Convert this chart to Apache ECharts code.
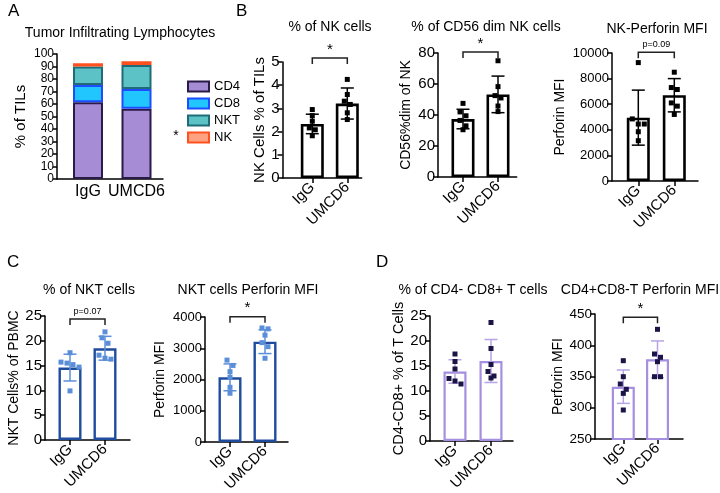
<!DOCTYPE html>
<html><head><meta charset="utf-8">
<script src="https://cdn.jsdelivr.net/npm/echarts@6/dist/echarts.min.js"></script>
<style>html,body{margin:0;padding:0;background:#fff}#c{width:720px;height:493px}</style>
</head><body><div id="c"></div>
<script>
// ---------------- DATA ----------------
const groups = ['IgG', 'UMCD6'];

// Panel A – stacked % of TILs
const tilNames = ['CD4', 'CD8', 'NKT', 'NK'];
const tilCD4 = [61.5, 56.2];
const tilCD8 = [13.8, 15.9];
const tilNKT = [14.7, 19.1];
const tilNK  = [2.6, 3.0];
const tilTicks = [0,10,20,30,40,50,60,70,80,90,100];

// B1 – % of NK cells
const nkPctMean = [2.33, 3.21];
const nkPctSD = [0.42, 0.67];
const nkPctIgG = [2.95, 2.69, 2.45, 2.16, 2.08, 1.82];
const nkPctUMCD6 = [4.25, 3.60, 3.31, 3.17, 2.81, 2.52];
const nkPctTicks = [0,1,2,3,4,5];

// B2 – % of CD56 dim NK cells
const cd56Mean = [37.4, 53.3];
const cd56SD = [6.3, 11.8];
const cd56IgG = [47.5, 42, 39.5, 36.5, 33, 30.5];
const cd56UMCD6 = [75, 58.3, 52.5, 51, 45.8, 42.2];
const cd56Ticks = [0,20,40,60,80];

// B3 – NK perforin MFI
const nkPerfMean = [4950, 6700];
const nkPerfSD = [2150, 1300];
const nkPerfIgG = [9250, 4850, 4450, 4450, 3850, 3150];
const nkPerfUMCD6 = [8500, 7300, 7150, 6100, 5850, 5200];
const nkPerfTicks = [0,2000,4000,6000,8000,10000];

// C1 – % of NKT cells
const nktPctMean = [14.6, 18.5];
const nktPctSD = [2.7, 2.4];
const nktPctIgG = [17.6, 15.7, 15.5, 15.2, 14.7, 9.9];
const nktPctUMCD6 = [21.8, 20.6, 19.5, 17.1, 16.5, 16.3];
const nktPctTicks = [0,5,10,15,20,25];

// C2 – NKT perforin MFI
const nktPerfMean = [2070, 3210];
const nktPerfSD = [430, 380];
const nktPerfIgG = [2620, 2450, 2250, 2070, 1750, 1560];
const nktPerfUMCD6 = [3650, 3620, 3420, 3180, 3050, 2680];
const nktPerfTicks = [0,1000,2000,3000,4000];

// D1 – % of CD4- CD8+ T cells
const cd8PctMean = [13.9, 16.0];
const cd8PctSD = [2.35, 4.3];
const cd8PctIgG = [17.4, 15.9, 14.4, 12.5, 12.0, 11.4];
const cd8PctUMCD6 = [23.7, 18.5, 15.3, 13.9, 13.0, 12.6];
const cd8PctTicks = [0,5,10,15,20,25];

// D2 – CD4+CD8-T perforin MFI
const cd4PerfMean = [333.7, 377.5];
const cd4PerfSD = [26.7, 29.4];
const cd4PerfIgG = [375.3, 349.7, 338, 329.5, 323, 296.4];
const cd4PerfUMCD6 = [425.5, 386, 380.7, 373.7, 349.7, 349.7];
const cd4PerfTicks = [250,300,350,400,450];

// significance brackets: level (data units) and label
const sigLevels = {B1: 5.17, B2: 80.6, B3: 10050, C1: 24.4, C2: 4010, D2: 445};
const sigLabels = {B1: '*', B2: '*', B3: 'p=0.09', C1: 'p=0.07', C2: '*', D2: '*'};

// ---------------- STYLE / LAYOUT ----------------
const FF = '"Liberation Sans", Arial, Helvetica, sans-serif';
const styleB = {bar: '#000000', err: '#000000', pt: '#000000', bw: 2.6};
const styleC = {bar: '#1f4c9c', err: '#5b8ed8', pt: '#5b8ed8', bw: 2.4};
const styleD = {bar: '#a68fe0', err: '#b7a3e6', pt: '#1b1446', bw: 2.2};

const panels = [
  {key:'B1', left:282.5, right:361.7, top:62, bottom:178, c1:312.3, c2:347.3, ticks:nkPctTicks, mean:nkPctMean, sd:nkPctSD, a:nkPctIgG, b:nkPctUMCD6, st:styleB, name:'NK Cells % of TILs', nameGap:14, nameSize:15, labSize:15},
  {key:'B2', left:438, right:516.7, top:53, bottom:177, c1:463, c2:498, ticks:cd56Ticks, mean:cd56Mean, sd:cd56SD, a:cd56IgG, b:cd56UMCD6, st:styleB, name:'CD56%dim of NK', nameGap:25, nameSize:14, labSize:15},
  {key:'B3', left:612, right:698, top:53, bottom:181, c1:638.3, c2:674.3, ticks:nkPerfTicks, mean:nkPerfMean, sd:nkPerfSD, a:nkPerfIgG, b:nkPerfUMCD6, st:styleB, name:'Perforin MFI', nameGap:45, nameSize:14, labSize:13},
  {key:'C1', left:45, right:130, top:316, bottom:440, c1:70, c2:105, ticks:nktPctTicks, mean:nktPctMean, sd:nktPctSD, a:nktPctIgG, b:nktPctUMCD6, st:styleC, name:'NKT Cells% of PBMC', nameGap:20, nameSize:14, labSize:15},
  {key:'C2', left:205, right:288, top:317, bottom:442, c1:230, c2:265, ticks:nktPerfTicks, mean:nktPerfMean, sd:nktPerfSD, a:nktPerfIgG, b:nktPerfUMCD6, st:styleC, name:'Perforin MFI', nameGap:38, nameSize:14, labSize:13},
  {key:'D1', left:430, right:513, top:316, bottom:441, c1:455, c2:491, ticks:cd8PctTicks, mean:cd8PctMean, sd:cd8PctSD, a:cd8PctIgG, b:cd8PctUMCD6, st:styleD, name:'CD4-CD8+ % of T Cells', nameGap:23, nameSize:14.5, labSize:15},
  {key:'D2', left:595, right:683, top:314, bottom:439, c1:623.3, c2:657.5, ticks:cd4PerfTicks, mean:cd4PerfMean, sd:cd4PerfSD, a:cd4PerfIgG, b:cd4PerfUMCD6, st:styleD, name:'Perforin MFI', nameGap:30, nameSize:14, labSize:13.5}
];

const texts = [
  ['A', 8, 11, 17], ['B', 236, 11, 17], ['C', 7, 262, 17], ['D', 376, 262, 17],
  ['Tumor Infiltrating Lymphocytes', 120, 33, 14],
  ['% of NK cells', 330, 27, 14], ['% of CD56 dim NK cells', 486, 27, 14], ['NK-Perforin MFI', 657, 29, 14],
  ['% of NKT cells', 89, 290, 14], ['NKT cells Perforin MFI', 248, 290, 14],
  ['% of CD4- CD8+ T cells', 473, 290, 14], ['CD4+CD8-T Perforin MFI', 640, 290, 14],
  ['*', 176, 136, 14]
];

// --------------- HELPERS ----------------
function swarm(vals, xc, p) {
  const yPer = (p.ymax - p.ymin) / (p.bottom - p.top);
  const thr = 5.5 * yPer;
  const step = 6 / p.unit;
  const sorted = vals.slice().sort((u, v) => v - u);
  const out = [];
  let cl = [];
  const flush = () => { cl.forEach((v, k) => out.push([xc + (k - (cl.length - 1) / 2) * step, v])); cl = []; };
  sorted.forEach(v => { if (cl.length && cl[0] - v >= thr) flush(); cl.push(v); });
  flush();
  return out;
}
function errRender(color, cap) {
  return function (params, api) {
    const x = api.value(0), m = api.value(1), s = api.value(2);
    const t = api.coord([x, m + s]), b = api.coord([x, m - s]);
    const style = {stroke: color, lineWidth: 1.5, fill: null};
    return {type: 'group', children: [
      {type: 'line', shape: {x1: t[0], y1: t[1], x2: b[0], y2: b[1]}, style},
      {type: 'line', shape: {x1: t[0] - cap / 2, y1: t[1], x2: t[0] + cap / 2, y2: t[1]}, style},
      {type: 'line', shape: {x1: b[0] - cap / 2, y1: b[1], x2: b[0] + cap / 2, y2: b[1]}, style}
    ]};
  };
}
function bracketRender(label) {
  return function (params, api) {
    const p1 = api.coord([api.value(0), api.value(2)]);
    const p2 = api.coord([api.value(1), api.value(2)]);
    const small = label.length > 1;
    return {type: 'group', children: [
      {type: 'polyline', shape: {points: [[p1[0], p1[1] + 6], [p1[0], p1[1]], [p2[0], p2[1]], [p2[0], p2[1] + 6]]},
        style: {stroke: '#222', lineWidth: 1.5, fill: null}},
      {type: 'text', x: (p1[0] + p2[0]) / 2, y: p1[1] - (small ? 3 : 1),
        style: {text: label, fontSize: small ? 9 : 15, fontFamily: FF, fill: '#000', align: 'center', verticalAlign: 'bottom'}}
    ]};
  };
}
const plainNum = v => String(v);

// --------------- BUILD OPTION ----------------
const grids = [], xAxes = [], yAxes = [], series = [];
function axisCommon() {
  return {
    axisLine: {show: true, onZero: false, lineStyle: {color: '#000', width: 1.5}},
    splitLine: {show: false}
  };
}

// Panel A: grid 0 draws the axes frame, grid 1 holds the stacked category bars
(function () {
  const left = 57, right = 163, top = 54, bottom = 179, c1 = 88, c2 = 136.5;
  const band = c2 - c1;
  grids.push({left, top, width: right - left, height: bottom - top, outerBoundsMode: 'none', containLabel: false});
  grids.push({left: c1 - band / 2, top, width: band * 2, height: bottom - top, outerBoundsMode: 'none', containLabel: false});
  const yMin = tilTicks[0], yMax = tilTicks[tilTicks.length - 1], yInt = tilTicks[1] - tilTicks[0];
  xAxes.push(Object.assign(axisCommon(), {
    type: 'value', gridIndex: 0, min: 0, max: 1, axisTick: {show: false}, axisLabel: {show: false}
  }));
  xAxes.push({type: 'category', gridIndex: 1, data: groups, boundaryGap: true,
    axisLine: {show: false}, axisTick: {show: false}, splitLine: {show: false},
    axisLabel: {color: '#000', fontSize: 16, fontFamily: FF, margin: 5, interval: 0}});
  yAxes.push(Object.assign(axisCommon(), {
    type: 'value', gridIndex: 0, min: yMin, max: yMax, interval: yInt,
    axisTick: {show: true, length: 4, lineStyle: {color: '#000', width: 1.5}},
    axisLabel: {color: '#000', fontSize: 12, fontFamily: FF, margin: 3, formatter: plainNum},
    name: '% of TILs', nameLocation: 'middle', nameGap: 29, nameRotate: 90,
    nameTextStyle: {color: '#000', fontSize: 15, fontFamily: FF}
  }));
  yAxes.push({type: 'value', gridIndex: 1, min: yMin, max: yMax, interval: yInt, show: false, splitLine: {show: false}});
  const tilData = [tilCD4, tilCD8, tilNKT, tilNK];
  const fills = ['#a68bd5', '#22c6ff', '#5cc2c5', '#ffa282'];
  const borders = ['#2a1a48', '#1f4cff', '#1f6c78', '#ff5020'];
  tilData.forEach((arr, k) => {
    series.push({type: 'bar', name: tilNames[k], stack: 'til', xAxisIndex: 1, yAxisIndex: 1, barWidth: 30,
      data: arr.slice(),
      itemStyle: {color: fills[k], borderColor: borders[k], borderWidth: 2}});
  });
})();

panels.forEach((p, idx) => {
  const i = idx + 2;
  p.unit = p.c2 - p.c1;
  p.ymin = p.ticks[0]; p.ymax = p.ticks[p.ticks.length - 1];
  grids.push({left: p.left, top: p.top, width: p.right - p.left, height: p.bottom - p.top, outerBoundsMode: 'none', containLabel: false});
  xAxes.push(Object.assign(axisCommon(), {
    type: 'value', gridIndex: i, min: 1 - (p.c1 - p.left) / p.unit, max: 2 + (p.right - p.c2) / p.unit,
    axisTick: {show: true, customValues: [1, 2], length: 5, lineStyle: {color: '#000', width: 1.5}},
    axisLabel: {customValues: [1, 2], formatter: v => groups[Math.round(v) - 1], rotate: 45, color: '#000', fontSize: 15, fontFamily: FF, margin: 7}
  }));
  yAxes.push(Object.assign(axisCommon(), {
    type: 'value', gridIndex: i, min: p.ymin, max: p.ymax, interval: p.ticks[1] - p.ticks[0],
    axisTick: {show: true, length: 5, lineStyle: {color: '#000', width: 1.5}},
    axisLabel: {color: '#000', fontSize: p.labSize, fontFamily: FF, margin: 3, formatter: plainNum},
    name: p.name, nameLocation: 'middle', nameGap: p.nameGap, nameRotate: 90,
    nameTextStyle: {color: '#000', fontSize: p.nameSize, fontFamily: FF}
  }));
  series.push({type: 'bar', xAxisIndex: i, yAxisIndex: i, barWidth: 23, z: 2,
    data: p.mean.map((v, j) => [j + 1, v]),
    itemStyle: {color: '#ffffff', borderColor: p.st.bar, borderWidth: p.st.bw}});
  series.push({type: 'custom', xAxisIndex: i, yAxisIndex: i, z: 3, clip: false,
    renderItem: errRender(p.st.err, 13),
    data: p.mean.map((v, j) => [j + 1, v, p.sd[j]])});
  series.push({type: 'scatter', xAxisIndex: i, yAxisIndex: i, z: 4, symbol: 'rect', symbolSize: 5,
    itemStyle: {color: p.st.pt, opacity: 1},
    data: swarm(p.a, 1, p).concat(swarm(p.b, 2, p))});
  if (sigLevels[p.key] !== undefined) {
    series.push({type: 'custom', xAxisIndex: i, yAxisIndex: i, z: 5, clip: false,
      renderItem: bracketRender(sigLabels[p.key]),
      data: [[1, 2, sigLevels[p.key]]]});
  }
});

const option = {
  animation: false,
  backgroundColor: '#ffffff',
  textStyle: {fontFamily: FF},
  grid: grids, xAxis: xAxes, yAxis: yAxes, series,
  legend: {data: tilNames, orient: 'vertical', left: 182, top: 75, itemWidth: 21, itemHeight: 10, itemGap: 4,
    icon: 'rect', selectedMode: false, textStyle: {color: '#000', fontSize: 13, fontFamily: FF}},
  graphic: texts.map(t => ({type: 'text', x: t[1], y: t[2],
    style: {text: t[0], fontSize: t[3], fontFamily: FF, fill: '#000', align: t[0].length === 1 && t[0] !== '*' ? 'left' : 'center', verticalAlign: 'middle'}}))
};
const chart = echarts.init(document.getElementById('c'), null, {renderer: 'canvas'});
chart.setOption(option);
</script></body></html>
